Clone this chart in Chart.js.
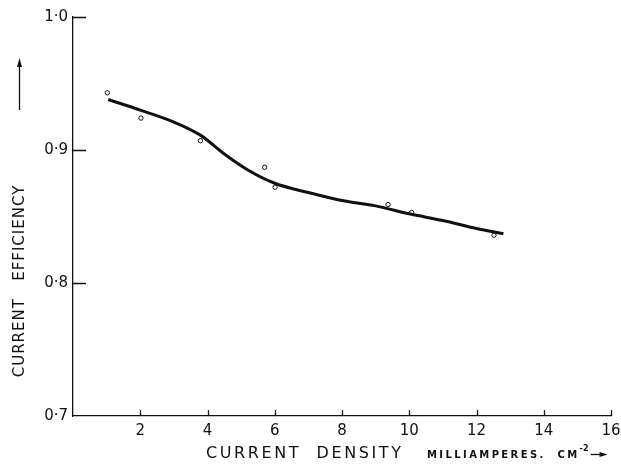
<!DOCTYPE html>
<html>
<head>
<meta charset="utf-8">
<script src="https://cdn.jsdelivr.net/npm/chart.js@4.4.0/dist/chart.umd.min.js"></script>
<style>
  html, body { margin: 0; padding: 0; background: #fff; overflow: hidden; }
  canvas { display: block; }
</style>
</head>
<body>
<canvas id="myChart" width="621" height="465"></canvas>
<script>
// measured points (open circles)
const densidade = [1.02, 2.02, 3.79, 5.70, 6.01, 9.37, 10.07, 12.52];
const eficiencia = [0.943, 0.924, 0.907, 0.887, 0.872, 0.859, 0.853, 0.836];

// smooth fitted curve
const curvaX = [1.05, 2.0, 3.0, 3.8, 4.5, 5.2, 6.0, 7.0, 8.0, 9.0, 10.0, 11.0, 12.0, 12.8];
const curvaY = [0.938, 0.930, 0.921, 0.911, 0.897, 0.885, 0.875, 0.868, 0.862, 0.858, 0.852, 0.847, 0.841, 0.837];

const xTicks = [2, 4, 6, 8, 10, 12, 14, 16];
const yTicks = [0.7, 0.8, 0.9, 1.0];

const fonte = '"DejaVu Sans", sans-serif';
const ctx = document.getElementById('myChart').getContext('2d');

const marcasInternas = {
  id: 'marcasInternas',
  afterDraw(chart) {
    const c = chart.ctx;
    const area = chart.chartArea;
    const sx = chart.scales.x, sy = chart.scales.y;
    c.save();
    c.strokeStyle = '#111';
    c.lineWidth = 1.3;
    c.beginPath();
    for (const v of yTicks) {
      if (v === 0.7) continue;
      const py = Math.round(sy.getPixelForValue(v)) + 0.5;
      c.moveTo(area.left, py);
      c.lineTo(area.left + 13, py);
    }
    for (const v of xTicks) {
      const px = Math.round(sx.getPixelForValue(v)) + 0.5;
      c.moveTo(px, area.bottom);
      c.lineTo(px, area.bottom - 6);
    }
    c.stroke();

    // y title, rotated
    c.fillStyle = '#111';
    c.save();
    c.translate(24, 281);
    c.rotate(-Math.PI / 2);
    c.font = '15px ' + fonte;
    c.letterSpacing = '1px';
    c.textAlign = 'center';
    c.textBaseline = 'alphabetic';
    c.fillText('CURRENT   EFFICIENCY', 0, 0);
    c.restore();

    // arrow up
    c.beginPath();
    c.moveTo(19.5, 110);
    c.lineTo(19.5, 64);
    c.stroke();
    c.beginPath();
    c.moveTo(19.5, 58);
    c.lineTo(17, 67);
    c.lineTo(22, 67);
    c.closePath();
    c.fill();

    // x title
    c.font = '16px ' + fonte;
    c.letterSpacing = '2.6px';
    c.textAlign = 'left';
    c.fillText('CURRENT  DENSITY', 206, 458);
    c.font = 'bold 10px ' + fonte;
    c.letterSpacing = '2.4px';
    const unidade = 'MILLIAMPERES.  CM';
    c.fillText(unidade, 427, 458);
    const fim = 427 + c.measureText(unidade).width;
    c.font = 'bold 8px ' + fonte;
    c.letterSpacing = '0px';
    c.fillText('-2', fim, 451);
    const a0 = fim + 11;
    c.beginPath();
    c.moveTo(a0, 454.5);
    c.lineTo(a0 + 12, 454.5);
    c.stroke();
    c.beginPath();
    c.moveTo(a0 + 17, 454.5);
    c.lineTo(a0 + 9, 452);
    c.lineTo(a0 + 9, 457);
    c.closePath();
    c.fill();
    c.restore();
  }
};

new Chart(ctx, {
  type: 'scatter',
  data: {
    datasets: [{
      label: 'curva',
      data: curvaX.map((x, i) => ({ x: x, y: curvaY[i] })),
      showLine: true,
      borderColor: '#111',
      borderWidth: 3,
      pointRadius: 0,
      cubicInterpolationMode: 'monotone',
      fill: false
    }, {
      label: 'medidas',
      data: densidade.map((x, i) => ({ x: x, y: eficiencia[i] })),
      showLine: false,
      pointStyle: 'circle',
      pointRadius: 2.2,
      borderWidth: 1,
      borderColor: '#111',
      backgroundColor: '#fff'
    }]
  },
  options: {
    responsive: false,
    animation: false,
    layout: { padding: { top: 17, right: 10, left: 0, bottom: 0 } },
    plugins: { legend: { display: false }, tooltip: { enabled: false } },
    scales: {
      x: {
        type: 'linear',
        min: 0,
        max: 16,
        afterBuildTicks: (scale) => { scale.ticks = [0].concat(xTicks).map(v => ({ value: v })); },
        afterFit: (scale) => { scale.height = 49; scale.paddingRight = 0; scale.paddingLeft = 0; },
        ticks: {
          callback: (v) => v === 0 ? '' : String(v),
          color: '#111',
          font: { family: fonte, size: 15 },
          padding: 6,
          maxRotation: 0
        },
        grid: { display: false, drawTicks: false },
        border: { display: true, color: '#111', width: 1.3 }
      },
      y: {
        type: 'linear',
        min: 0.7,
        max: 1.0,
        afterBuildTicks: (scale) => { scale.ticks = yTicks.map(v => ({ value: v })); },
        afterFit: (scale) => { scale.width = 73; scale.paddingTop = 0; scale.paddingBottom = 0; },
        ticks: {
          callback: (v) => Number(v).toFixed(1).replace('.', '·'),
          color: '#111',
          font: { family: fonte, size: 15 },
          padding: 5
        },
        grid: { display: false, drawTicks: false },
        border: { display: true, color: '#111', width: 1.3 }
      }
    }
  },
  plugins: [marcasInternas]
});
</script>
</body>
</html>
